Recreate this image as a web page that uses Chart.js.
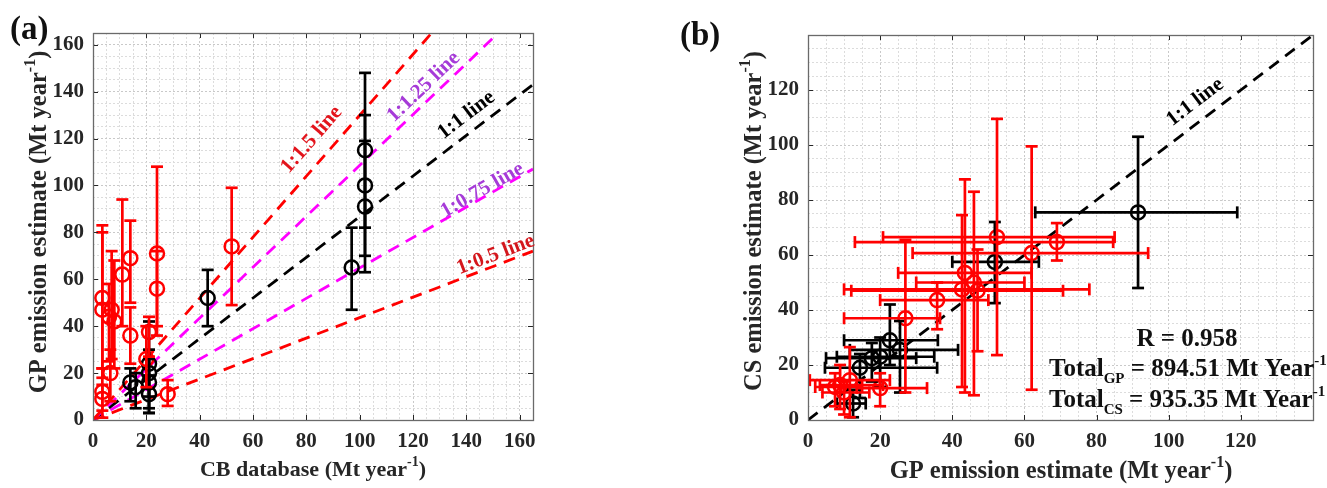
<!DOCTYPE html>
<html>
<head>
<meta charset="utf-8">
<script src="https://cdn.jsdelivr.net/npm/chart.js@4.4.0/dist/chart.umd.min.js"></script>
<style>
  html, body { margin: 0; padding: 0; background: #fff; }
  body { width: 1327px; height: 488px; position: relative; overflow: hidden; }
  #wrapA { position: absolute; left: 0; top: 0; }
  #wrapB { position: absolute; left: 670px; top: 0; }
</style>
</head>
<body>
<div id="wrapA"><canvas id="chartA" width="560" height="488"></canvas></div>
<div id="wrapB"><canvas id="chartB" width="657" height="488"></canvas></div>
<script>
// Panel (a): CB database (x) vs GP emission estimate (y)
const aRedX    = [3.5, 3.5, 3.5, 3.5, 6, 7, 8, 6.5, 11, 14, 14, 20, 21, 24, 24, 28, 52];
const aRedY    = [52, 47, 12, 9, 44, 47, 42, 20, 62, 69, 36, 26, 37.5, 71, 56, 11, 74];
const aRedLow  = [22, 18, 4, 1, 25, 26, 22, 8, 40, 50, 24, 14, 27, 36, 40, 6, 49];
const aRedHigh = [83, 80, 22, 15, 58, 72, 68, 30, 94, 85, 48, 40, 44, 108, 72, 17, 99];

const aBlackX    = [102, 102, 102, 97, 43, 14, 16, 21, 21, 21, 21];
const aBlackY    = [115, 100, 91, 65, 52, 16, 14, 24, 20, 16, 11];
const aBlackLow  = [82, 70, 63, 47, 40, 8, 5, 10, 5, 3, 3];
const aBlackHigh = [148, 130, 119, 82, 64, 22, 20, 42, 30, 26, 19];

// reference lines: where each dashed line leaves the plot box
const aLineNames  = ['1:1.5 line', '1:1.25 line', '1:1 line', '1:0.75 line', '1:0.5 line'];
const aLineEndX   = [127, 152, 165, 165, 165];
const aLineEndY   = [165, 165, 143, 107, 72];
const aLineColors = ['#ff0000', '#ff00ff', '#000000', '#ff00ff', '#ff0000'];
const aLabelColors = ['#e3141c', '#a63bd8', '#000000', '#a63bd8', '#d4161c'];
const aLabelX     = [82, 124, 140, 146, 151];
const aLabelY     = [119.5, 142, 130, 98, 70.5];

// Panel (b): GP estimate (x) vs CS estimate (y), errors in both directions
const bRedX     = [52.4, 69, 62, 43.5, 46, 42.7, 47, 35.8, 27, 11.6, 8.9, 7.5, 20, 10];
const bRedY     = [66.5, 64.7, 60.7, 53.5, 50, 47.5, 47, 43.6, 37, 14.5, 12.7, 12, 11.6, 10];
const bRedXLow  = [20.8, 13, 29, 25, 30, 10, 12, 20, 10, 0.5, 3.3, 2, 13.5, 4];
const bRedXHigh = [85, 84.6, 94.3, 62, 60, 78, 70.7, 50, 36.6, 22.7, 20.8, 15, 33, 17];
const bRedYLow  = [23.6, 58, 11, 10, 9, 12, 25, 33, 10, 1, 4, 5, 5, 2];
const bRedYHigh = [109.5, 71.6, 99.5, 87.5, 83, 74.5, 62, 50, 65.5, 26.5, 20, 17, 17, 14];

const bBlackX     = [91.5, 51.8, 22.7, 25.5, 20, 17.7, 14.4, 12.5];
const bBlackY     = [75.5, 57.5, 29, 25.5, 23, 22.5, 19, 6];
const bBlackXLow  = [63, 40, 10, 11.6, 8, 5, 4.7, 8];
const bBlackXHigh = [119, 64, 36, 41.6, 35, 30, 35.8, 16];
const bBlackYLow  = [48, 42.5, 20, 10, 12, 14, 8, 1];
const bBlackYHigh = [103, 72, 42, 36, 30, 28, 24, 11];

const bLineEndX = [140];
const bLineEndY = [140];

const FONT = 'Liberation Serif';

// build a scatter dataset with error bar arrays attached
function pointSet(xs, ys, color, yLow, yHigh, xLow, xHigh) {
    return {
        data: xs.map((x, i) => ({ x: x, y: ys[i] })),
        borderColor: color,
        backgroundColor: 'rgba(0,0,0,0)',
        pointRadius: 7,
        pointBorderWidth: 2.5,
        errY: yLow ? yLow.map((v, i) => [v, yHigh[i]]) : null,
        errX: xLow ? xLow.map((v, i) => [v, xHigh[i]]) : null
    };
}

function lineSet(endX, endY, color) {
    return {
        data: [{ x: 0, y: 0 }, { x: endX, y: endY }],
        showLine: true,
        borderColor: color,
        borderWidth: 2.8,
        borderDash: [12, 8],
        pointRadius: 0
    };
}

function axisOpts(max, labelMax, fix) {
    return {
        type: 'linear', min: 0, max: max,
        grid: {
            drawTicks: false,
            lineWidth: 1,
            color: c => (c.tick && c.tick.value % 20 === 0) ? '#c9c9c9' : '#dcdcdc'
        },
        border: { display: false, dash: [2, 2] },
        ticks: {
            stepSize: 5, autoSkip: false, maxRotation: 0, padding: 9,
            color: '#262626',
            font: { family: FONT, weight: 'bold', size: 21 },
            callback: v => (v % 20 === 0 && v <= labelMax) ? String(v) : ''
        },
        afterFit: fix
    };
}

// Error bars drawn through the library scales
const errorBars = {
    id: 'errorBars',
    afterDatasetsDraw(chart) {
        const { ctx } = chart;
        const xs = chart.scales.x, ys = chart.scales.y;
        const cap = 6;
        ctx.save();
        ctx.lineWidth = 2.7;
        const seg = (x1, y1, x2, y2) => { ctx.beginPath(); ctx.moveTo(x1, y1); ctx.lineTo(x2, y2); ctx.stroke(); };
        chart.data.datasets.slice().reverse().forEach(ds => {
            if (!ds.errY) return;
            ctx.strokeStyle = ds.borderColor;
            ds.data.forEach((p, i) => {
                const px = xs.getPixelForValue(p.x), py = ys.getPixelForValue(p.y);
                const lo = ys.getPixelForValue(ds.errY[i][0]), hi = ys.getPixelForValue(ds.errY[i][1]);
                seg(px, lo, px, hi);
                seg(px - cap, lo, px + cap, lo);
                seg(px - cap, hi, px + cap, hi);
                if (ds.errX) {
                    const l = xs.getPixelForValue(ds.errX[i][0]), r = xs.getPixelForValue(ds.errX[i][1]);
                    seg(l, py, r, py);
                    seg(l, py - cap, l, py + cap);
                    seg(r, py - cap, r, py + cap);
                }
            });
        });
        ctx.restore();
    }
};

// axis title with a "-1" superscript
function axisTitle(ctx, cx, cy, text, rot, size) {
    ctx.save();
    ctx.translate(cx, cy);
    ctx.rotate(rot);
    ctx.fillStyle = '#262626';
    ctx.textBaseline = 'alphabetic';
    ctx.textAlign = 'left';
    const big = 'bold ' + size + 'px "' + FONT + '"';
    const small = 'bold ' + Math.round(size * 0.64) + 'px "' + FONT + '"';
    ctx.font = big; const w1 = ctx.measureText(text).width; const w3 = ctx.measureText(')').width;
    ctx.font = small; const w2 = ctx.measureText('-1').width;
    let x = -(w1 + w2 + w3) / 2;
    const base = size * 0.36;
    ctx.font = big; ctx.fillText(text, x, base); x += w1;
    ctx.font = small; ctx.fillText('-1', x, base - size * 0.45); x += w2;
    ctx.font = big; ctx.fillText(')', x, base);
    ctx.restore();
}

function drawFrame(chart) {
    const { ctx, chartArea: a } = chart;
    const xs = chart.scales.x, ys = chart.scales.y;
    ctx.save();
    ctx.strokeStyle = '#262626';
    ctx.lineWidth = 1;
    const tl = 5;
    xs.ticks.forEach(t => {
        if (t.value % 20 !== 0 || t.value === xs.min || t.value === xs.max) return;
        const p = Math.round(xs.getPixelForValue(t.value)) + 0.5;
        ctx.beginPath(); ctx.moveTo(p, a.bottom); ctx.lineTo(p, a.bottom - tl); ctx.stroke();
        ctx.beginPath(); ctx.moveTo(p, a.top); ctx.lineTo(p, a.top + tl); ctx.stroke();
    });
    ys.ticks.forEach(t => {
        if (t.value % 20 !== 0 || t.value === ys.min || t.value === ys.max) return;
        const p = Math.round(ys.getPixelForValue(t.value)) + 0.5;
        ctx.beginPath(); ctx.moveTo(a.left, p); ctx.lineTo(a.left + tl, p); ctx.stroke();
        ctx.beginPath(); ctx.moveTo(a.right, p); ctx.lineTo(a.right - tl, p); ctx.stroke();
    });
    ctx.strokeStyle = '#6a6a6a';
    ctx.lineWidth = 1.3;
    ctx.strokeRect(Math.round(a.left) + 0.5, Math.round(a.top) + 0.5,
        Math.round(a.right - a.left), Math.round(a.bottom - a.top));
    ctx.restore();
}

// rotated label along a reference line, placed at data coordinates
function lineLabel(chart, text, vx, vy, endX, endY, color) {
    const { ctx } = chart;
    const xs = chart.scales.x, ys = chart.scales.y;
    const ang = Math.atan2(ys.getPixelForValue(endY) - ys.getPixelForValue(0),
        xs.getPixelForValue(endX) - xs.getPixelForValue(0));
    ctx.save();
    ctx.translate(xs.getPixelForValue(vx), ys.getPixelForValue(vy));
    ctx.rotate(ang);
    ctx.font = 'bold 21px "' + FONT + '"';
    ctx.fillStyle = color;
    ctx.textAlign = 'center';
    ctx.textBaseline = 'middle';
    ctx.fillText(text, 0, 0);
    ctx.restore();
}

const decorA = {
    id: 'decorA',
    afterDraw(chart) {
        const { ctx } = chart;
        drawFrame(chart);
        aLineNames.forEach((n, i) => lineLabel(chart, n, aLabelX[i], aLabelY[i], aLineEndX[i], aLineEndY[i], aLabelColors[i]));
        axisTitle(ctx, 313, 468, 'CB database (Mt year', 0, 22);
        axisTitle(ctx, 37, 222, 'GP emission estimate (Mt year', -Math.PI / 2, 24.5);
        ctx.save();
        ctx.font = 'bold 33px "' + FONT + '"';
        ctx.fillStyle = '#111';
        ctx.textBaseline = 'middle';
        ctx.fillText('(a)', 10, 30);
        ctx.restore();
    }
};

const decorB = {
    id: 'decorB',
    afterDraw(chart) {
        const { ctx } = chart;
        const off = 670;
        drawFrame(chart);
        lineLabel(chart, '1:1 line', 107.3, 115.6, bLineEndX[0], bLineEndY[0], '#000');
        axisTitle(ctx, 1061 - off, 469, 'GP emission estimate (Mt year', 0, 24.5);
        axisTitle(ctx, 752 - off, 221, 'CS emission estimate (Mt year', -Math.PI / 2, 24.5);
        ctx.save();
        ctx.fillStyle = '#111';
        ctx.font = 'bold 33px "' + FONT + '"';
        ctx.textBaseline = 'middle';
        ctx.fillText('(b)', 680 - off, 36);
        // statistics box text
        const big = 'bold 25px "' + FONT + '"', small = 'bold 15px "' + FONT + '"';
        ctx.font = big;
        ctx.textBaseline = 'alphabetic';
        ctx.textAlign = 'center';
        ctx.fillText('R = 0.958', 1187 - off, 346);
        ctx.textAlign = 'left';
        [['GP', '894.51', 376], ['CS', '935.35', 407]].forEach(r => {
            let x = 1049 - off;
            ctx.font = big; ctx.fillText('Total', x, r[2]); x += ctx.measureText('Total').width;
            ctx.font = small; ctx.fillText(r[0], x, r[2] + 7); x += ctx.measureText(r[0]).width;
            ctx.font = big; const s = ' = ' + r[1] + ' Mt Year';
            ctx.fillText(s, x, r[2]); x += ctx.measureText(s).width;
            ctx.font = small; ctx.fillText('-1', x, r[2] - 11);
        });
        ctx.restore();
    }
};

const baseOpts = {
    responsive: false,
    animation: false,
    plugins: { legend: { display: false }, tooltip: { enabled: false } }
};

new Chart(document.getElementById('chartA'), {
    type: 'scatter',
    data: {
        datasets: [
            pointSet(aRedX, aRedY, '#ff0000', aRedLow, aRedHigh),
            pointSet(aBlackX, aBlackY, '#000000', aBlackLow, aBlackHigh)
        ].concat(aLineEndX.map((x, i) => lineSet(x, aLineEndY[i], aLineColors[i])))
    },
    options: Object.assign({}, baseOpts, {
        layout: { padding: { top: 33, right: 27, left: 0, bottom: 0 } },
        scales: {
            x: axisOpts(165, 160, s => { s.height = 68; }),
            y: axisOpts(165, 160, s => { s.width = 93; })
        }
    }),
    plugins: [errorBars, decorA]
});

new Chart(document.getElementById('chartB'), {
    type: 'scatter',
    data: {
        datasets: [
            pointSet(bRedX, bRedY, '#ff0000', bRedYLow, bRedYHigh, bRedXLow, bRedXHigh),
            pointSet(bBlackX, bBlackY, '#000000', bBlackYLow, bBlackYHigh, bBlackXLow, bBlackXHigh),
            lineSet(bLineEndX[0], bLineEndY[0], '#000000')
        ]
    },
    options: Object.assign({}, baseOpts, {
        layout: { padding: { top: 35, right: 14, left: 0, bottom: 0 } },
        scales: {
            x: axisOpts(140, 120, s => { s.height = 68; }),
            y: axisOpts(140, 120, s => { s.width = 138; })
        }
    }),
    plugins: [errorBars, decorB]
});
</script>
</body>
</html>
